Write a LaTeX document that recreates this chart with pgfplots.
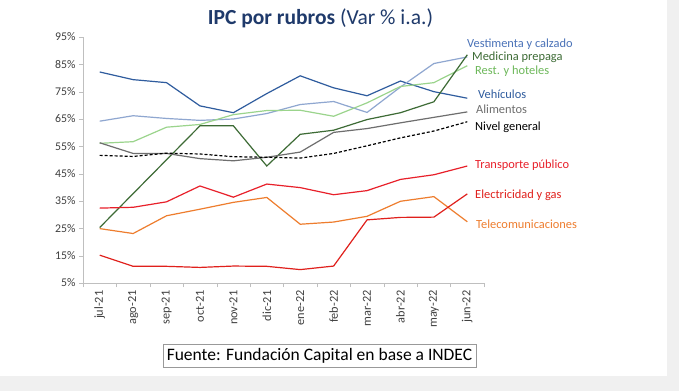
\documentclass[border=0pt]{standalone}
\usepackage{fontspec}
\setmainfont{Carlito}
\usepackage{pgfplots}
\pgfplotsset{compat=1.18}
\definecolor{cVeh}{HTML}{2F5C9E}
\definecolor{cVes}{HTML}{8FA7D0}
\definecolor{cVesL}{HTML}{4A72B8}
\definecolor{cRest}{HTML}{9BD48C}
\definecolor{cRestL}{HTML}{6DB85A}
\definecolor{cMed}{HTML}{3D6B35}
\definecolor{cAli}{HTML}{6E6E6E}
\definecolor{cTra}{HTML}{E8202A}
\definecolor{cEle}{HTML}{E0201C}
\definecolor{cTel}{HTML}{EE7D2E}
\definecolor{cTitle}{HTML}{1F3A6B}
\definecolor{cAxis}{HTML}{BFBFBF}
\definecolor{cTick}{HTML}{404040}
\begin{document}
\begin{tikzpicture}[x=1pt,y=1pt]
\fill[white] (0,0) rectangle (679,391);
\fill[black!6] (667,0) rectangle (679,391);
\fill[black!6] (0,0) rectangle (679,15);
\path[use as bounding box] (0,0) rectangle (679,391);
\begin{axis}[
  at={(83pt,108pt)}, anchor=south west,
  scale only axis, width=401pt, height=246pt,
  xmin=-0.5, xmax=11.5, ymin=5, ymax=95,
  axis lines=left, axis line style={draw=cAxis, -},
  xtick={0,...,11},
  xticklabels={jul-21,ago-21,sep-21,oct-21,nov-21,dic-21,ene-22,feb-22,mar-22,abr-22,may-22,jun-22},
  minor xtick={-0.5,0.5,...,11.5},
  major x tick style={draw=none},
  minor x tick style={draw=cAxis},
  minor tick length=4pt,
  ytick={5,15,...,95},
  yticklabel={\pgfmathprintnumber{\tick}\%},
  y tick style={draw=cAxis},
  major tick length=4pt,
  tick align=outside,
  /pgf/number format/assume math mode=true,
  yticklabel style={font=\fontsize{11.8}{14}\selectfont, text=cTick},
  xticklabel style={font=\fontsize{12.3}{14}\selectfont, text=cTick, rotate=90, anchor=east},
  clip=false,
  every axis plot/.append style={line width=1.2pt, mark=none},
]
% Vehiculos
\addplot[cVeh] coordinates {(0,82.2)(1,79.4)(2,78.3)(3,69.8)(4,67.3)(5,74.3)(6,80.8)(7,76.4)(8,73.5)(9,78.9)(10,75.0)(11,72.6)};
% Vestimenta y calzado
\addplot[cVes] coordinates {(0,64.2)(1,66.2)(2,65.2)(3,64.5)(4,65.0)(5,67.0)(6,70.3)(7,71.4)(8,67.4)(9,76.7)(10,85.3)(11,87.7)};
% Rest. y hoteles
\addplot[cRest] coordinates {(0,56.1)(1,56.7)(2,62.0)(3,63.0)(4,66.6)(5,68.1)(6,68.2)(7,66.0)(8,70.9)(9,76.9)(10,78.3)(11,84.5)};
% Medicina prepaga
\addplot[cMed] coordinates {(0,25.3)(1,37.7)(2,50.1)(3,62.5)(4,62.5)(5,47.8)(6,59.4)(7,60.9)(8,64.8)(9,67.3)(10,71.3)(11,88.5)};
% Alimentos
\addplot[cAli] coordinates {(0,56.3)(1,52.4)(2,52.4)(3,50.5)(4,49.7)(5,51.0)(6,52.9)(7,60.1)(8,61.5)(9,63.6)(10,65.6)(11,67.6)};
% Nivel general
\addplot[black, dashed, dash pattern=on 3pt off 2pt] coordinates {(0,51.7)(1,51.3)(2,52.5)(3,52.2)(4,51.2)(5,51.0)(6,50.7)(7,52.4)(8,55.2)(9,58.1)(10,60.6)(11,64.0)};
% Transporte publico
\addplot[cTra] coordinates {(0,32.4)(1,32.7)(2,34.7)(3,40.5)(4,36.4)(5,41.2)(6,39.9)(7,37.3)(8,38.8)(9,42.9)(10,44.6)(11,47.8)};
% Telecomunicaciones
\addplot[cTel] coordinates {(0,24.9)(1,23.1)(2,29.6)(3,32.0)(4,34.5)(5,36.3)(6,26.5)(7,27.3)(8,29.4)(9,34.9)(10,36.6)(11,27.4)};
% Electricidad y gas
\addplot[cEle] coordinates {(0,15.2)(1,11.1)(2,11.1)(3,10.7)(4,11.2)(5,11.1)(6,9.9)(7,11.2)(8,28.1)(9,29.0)(10,29.1)(11,37.6)};
\end{axis}
\node[anchor=center, text=cTitle, font=\fontsize{21.5}{24}\selectfont, inner sep=0pt] at (320.5,373) {\textbf{IPC por rubros} (Var \% i.a.)};
\begin{scope}[every node/.style={anchor=west, font=\fontsize{12.4}{14}\selectfont, inner sep=0pt}]
\node[text=cVesL] at (467,347) {Vestimenta y calzado};
\node[text=cMed] at (472,334) {Medicina prepaga};
\node[text=cRestL] at (475,320) {Rest. y hoteles};
\node[text=cVeh] at (478,297) {Vehículos};
\node[text=cAli] at (476,282) {Alimentos};
\node[text=black] at (475,264) {Nivel general};
\node[text=cTra] at (475,226) {Transporte público};
\node[text=cEle] at (475,196) {Electricidad y gas};
\node[text=cTel] at (476,167) {Telecomunicaciones};
\end{scope}
\draw[black!40, line width=0.6pt] (163,24) rectangle (476,47);
\node[anchor=center, font=\fontsize{17.5}{20}\selectfont, inner sep=0pt] at (319.5,35.5) {Fuente: Fundación Capital en base a INDEC};
\end{tikzpicture}
\end{document}
